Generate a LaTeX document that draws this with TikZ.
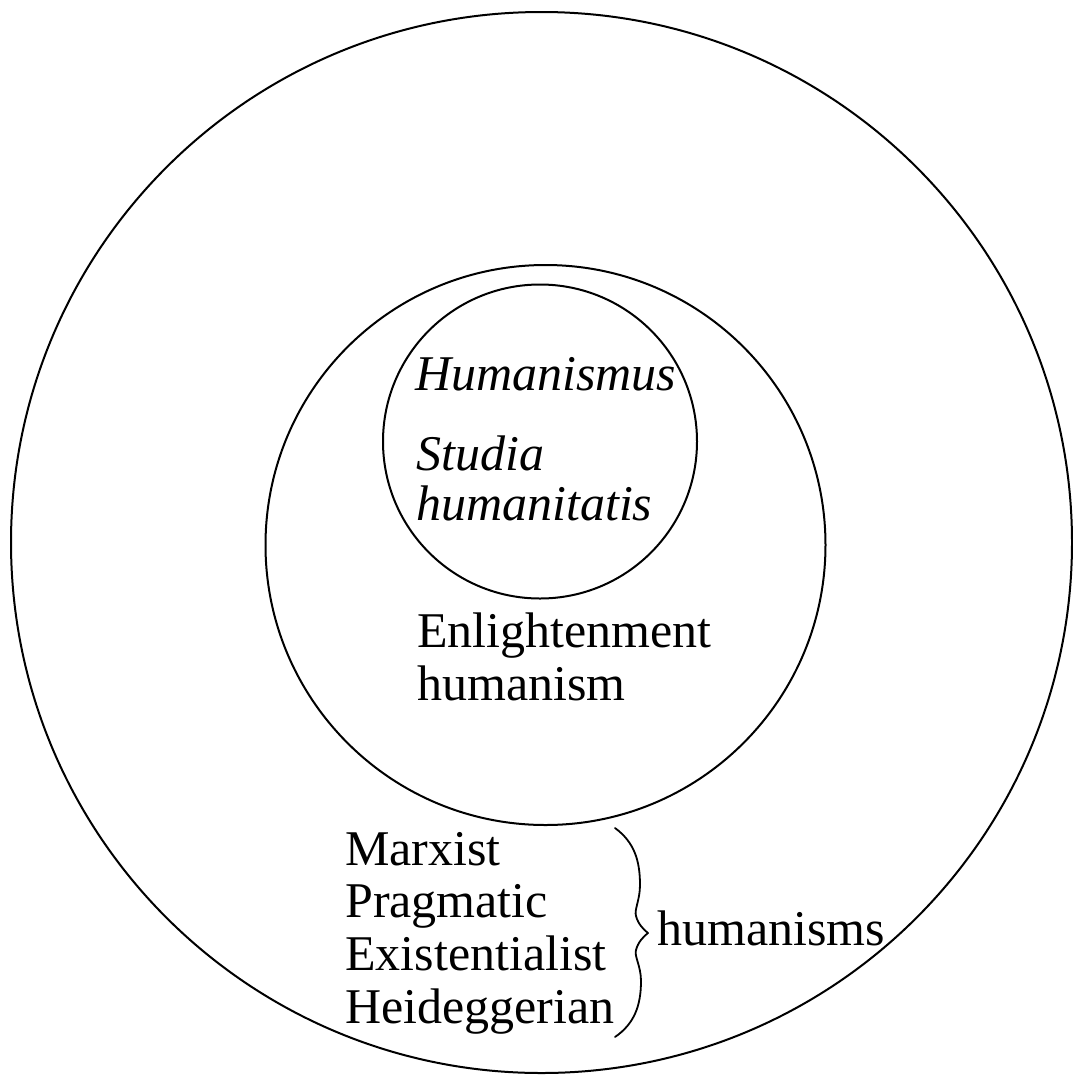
\documentclass[tikz,border=0pt]{standalone}
\usepackage{fontspec}
\setmainfont{Liberation Serif}
\newcommand\stackl[1]{\begin{tabular}[t]{@{}l@{}}#1\end{tabular}}
\begin{document}
\begin{tikzpicture}[x=1pt,y=-1pt,
  ring/.style={draw, circle, line width=2pt, inner sep=0pt},
  lbl/.style={anchor=base west, inner sep=0pt},
  txt/.style={lbl, font=\fontsize{50}{53}\selectfont},
  itxt/.style={lbl, font=\fontsize{50}{50}\selectfont\itshape},
  bracel/.style={draw, line width=1.8pt, line cap=round, line join=round}]
\useasboundingbox (0,0) rectangle (1073,1077);
\fill[white] (0,0) rectangle (1073,1077);
% circles
\node[ring, minimum size=1061pt] (outer) at (541.5,542.5) {};
\node[ring, minimum size=560pt] (middle) at (545.5,545) {};
\node[ring, minimum size=314pt] (inner) at (540,441.5) {};
% texts
\node[itxt] (humanismus) at (415,390) {Humanismus};
\node[itxt] (studia) at (416,470) {\stackl{Studia\\humanitatis}};
\node[txt] (enlight) at (417,647) {\stackl{Enlightenment\\humanism}};
\node[lbl, font=\fontsize{50}{52.7}\selectfont] (list) at (345,865)
  {\stackl{Marxist\\Pragmatic\\Existentialist\\Heideggerian}};
\node[txt] (hums) at (657,945) {humanisms};
% brace
\coordinate (btop) at (615,828);
\coordinate (btip) at (648,933);
\coordinate (bbot) at (615,1037);
\path[bracel] (btop) .. controls (634,842) and (640,860) .. (640,885)
  .. controls (640,900) and (634,910) .. (636,916)
  .. controls (638,924) and (644,930) .. (btip)
  .. controls (644,936) and (638,942) .. (636,950)
  .. controls (634,956) and (641,966) .. (641,981)
  .. controls (641,1006) and (634,1024) .. (bbot);
\end{tikzpicture}
\end{document}
